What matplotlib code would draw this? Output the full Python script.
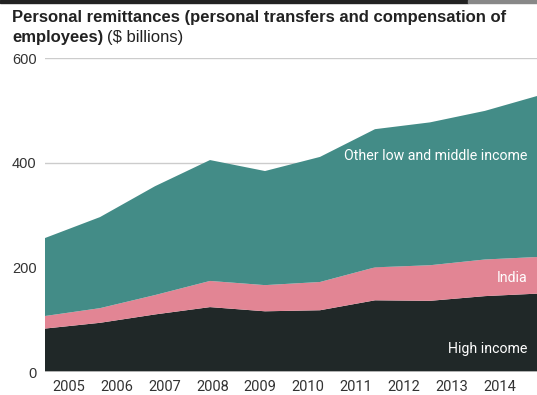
import matplotlib.pyplot as plt
import numpy as np

# values ($ billions)
years = ['2005', '2006', '2007', '2008', '2009', '2010', '2011', '2012', '2013', '2014']
high_income = [83, 94, 110, 124, 116, 118, 137, 136, 145, 150]
india = [24, 28, 37, 50, 50, 54, 63, 68, 70, 70]
other_lmi = [149, 174, 208, 231, 218, 239, 264, 273, 284, 309]

teal = '#438c87'
pink = '#e28594'
dark = '#202828'

fig = plt.figure(figsize=(5.37, 3.95), dpi=100)
W, H = 537, 395
ax = fig.add_axes([45 / W, 1 - 372 / H, (W - 45) / W, (372 - 58) / H])

x = np.arange(len(years))
ax.stackplot(x, high_income, india, other_lmi, colors=[dark, pink, teal],
             linewidth=0, zorder=2)

ax.set_xlim(0, (W - 45) / 55)
ax.set_ylim(0, 600)

# grid
for v in [200, 400, 600]:
    ax.axhline(v, color='#cccccc', lw=1, zorder=1)
ax.axhline(0, color='#cccccc', lw=1.2, zorder=3)

for s in ax.spines.values():
    s.set_visible(False)

ax.set_yticks([0, 200, 400, 600])
ax.set_yticklabels(['0', '200', '400', '600'], fontsize=10.5, color='#333333',
                   family='Liberation Sans')
ax.tick_params(axis='y', length=0, pad=6)

tick_pos = [(68.7 - 45) / 55 + i * 47.9 / 55 for i in range(len(years))]
ax.set_xticks(tick_pos)
ax.set_xticklabels(years, fontsize=10.5, color='#333333', family='Roboto')
ax.tick_params(axis='x', length=0, pad=6)

fig.canvas.draw()
r = fig.canvas.get_renderer()


def fit(t, width):
    # shrink/grow a text so it takes the width seen in the reference
    w = t.get_window_extent(r).width
    t.set_fontsize(t.get_fontsize() * width / w)


# series labels
lx = (527 - 45) / 55
t1 = ax.text(lx, 412, 'Other low and middle income', color='white', ha='right',
             va='center', fontsize=11, family='Roboto', zorder=4)
fit(t1, 182)
fs = t1.get_fontsize()
ax.text(lx, 180, 'India', color='white', ha='right', va='center',
        fontsize=fs, family='Roboto', zorder=4)
ax.text(lx, 44, 'High income', color='white', ha='right', va='center',
        fontsize=fs, family='Roboto', zorder=4)

# title
t = fig.text(12 / W, 1 - 22 / H, 'Personal remittances (personal transfers and compensation of',
             fontsize=12, fontweight='bold', color='#222222', va='baseline',
             family='Liberation Sans')
fit(t, 492)
tfs = t.get_fontsize()
t2 = fig.text(12 / W, 1 - 42 / H, 'employees)', fontsize=tfs, fontweight='bold',
              color='#222222', va='baseline', family='Liberation Sans')
fig.canvas.draw()
bb = t2.get_window_extent(r)
fig.text((bb.x1 + 4) / W, 1 - 42 / H, '($ billions)', fontsize=tfs,
         color='#222222', va='baseline', family='Liberation Sans')

# top rule
fig.add_artist(plt.Rectangle((0, 1 - 3 / H), 468 / W, 3 / H, color='#222222',
                             transform=fig.transFigure))
fig.add_artist(plt.Rectangle((468 / W, 1 - 3 / H), (W - 468) / W, 3 / H,
                             color='#888888', transform=fig.transFigure))

fig.savefig('out.png', dpi=100)
